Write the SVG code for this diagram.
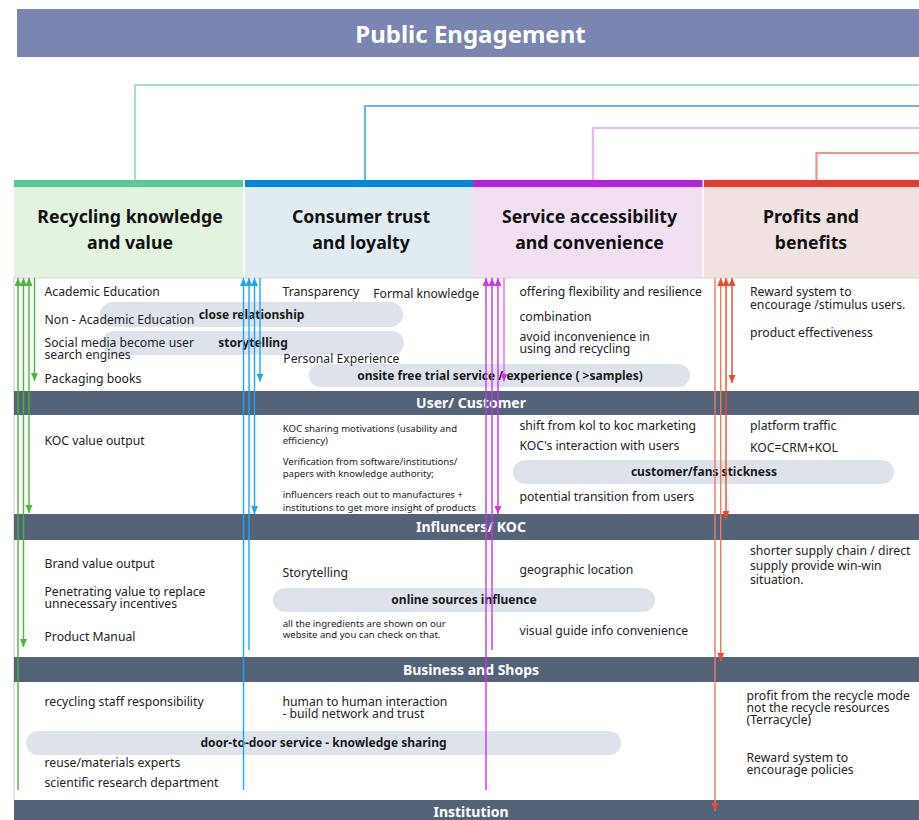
<svg xmlns="http://www.w3.org/2000/svg" width="919" height="820" viewBox="0 0 919 820">
  <style>
    .title { font-family: "Noto Sans", "Liberation Sans", sans-serif; font-size: 24px; font-weight: bold; fill: #ffffff; text-anchor: middle; }
    .head { font-family: "Noto Sans", "Liberation Sans", sans-serif; font-size: 17.7px; font-weight: bold; fill: #111111; text-anchor: middle; }
    .band { fill: #556379; }
    .bandtxt { font-family: "Noto Sans", "Liberation Sans", sans-serif; font-size: 14px; font-weight: bold; fill: #ffffff; text-anchor: middle; }
    .t { font-family: "Noto Sans", "Liberation Sans", sans-serif; font-size: 12.2px; fill: #222222; }
    .s { font-family: "Noto Sans", "Liberation Sans", sans-serif; font-size: 9.6px; fill: #222222; }
    .pill { fill: #dee3eb; }
    .pt { font-family: "Noto Sans", "Liberation Sans", sans-serif; font-size: 12px; font-weight: bold; fill: #1a1a1a; text-anchor: middle; }
    .link { fill: none; stroke-width: 2.2; }
    .v { fill: none; stroke-width: 1.4; }
  </style>
  <defs>
    <marker id="ag" viewBox="0 0 8 7" refX="8" refY="3.5" markerWidth="8" markerHeight="7" markerUnits="userSpaceOnUse" orient="auto-start-reverse"><path d="M0,0 L8,3.5 L0,7 z" fill="#4db33d"/></marker>
    <marker id="ab" viewBox="0 0 8 7" refX="8" refY="3.5" markerWidth="8" markerHeight="7" markerUnits="userSpaceOnUse" orient="auto-start-reverse"><path d="M0,0 L8,3.5 L0,7 z" fill="#1ca5f2"/></marker>
    <marker id="ap" viewBox="0 0 8 7" refX="8" refY="3.5" markerWidth="8" markerHeight="7" markerUnits="userSpaceOnUse" orient="auto-start-reverse"><path d="M0,0 L8,3.5 L0,7 z" fill="#cc33ee"/></marker>
    <marker id="ar" viewBox="0 0 8 7" refX="8" refY="3.5" markerWidth="8" markerHeight="7" markerUnits="userSpaceOnUse" orient="auto-start-reverse"><path d="M0,0 L8,3.5 L0,7 z" fill="#f04a28"/></marker>
  </defs>

  <rect x="0" y="0" width="919" height="820" fill="#ffffff"/>

  <!-- title -->
  <g id="title">
    <rect x="17" y="9" width="902" height="48" fill="#7b85b1"/>
    <text class="title" x="470.5" y="42.5">Public Engagement</text>
  </g>

  <!-- column headers -->
  <g id="col-knowledge">
    <rect x="14" y="187" width="229" height="91" fill="#e4f2e0"/>
    <rect x="14" y="180" width="229" height="7" fill="#58c89a"/>
    <text class="head" x="130" y="223">Recycling knowledge</text>
    <text class="head" x="130" y="249">and value</text>
  </g>
  <g id="col-trust">
    <rect x="245" y="187" width="228" height="91" fill="#e0ecf2"/>
    <rect x="245" y="180" width="228" height="7" fill="#0088e0"/>
    <text class="head" x="361" y="223">Consumer trust</text>
    <text class="head" x="361" y="249">and loyalty</text>
  </g>
  <g id="col-service">
    <rect x="473" y="187" width="229.5" height="91" fill="#f0e0f2"/>
    <rect x="473" y="180" width="229.5" height="7" fill="#b620e0"/>
    <text class="head" x="589.5" y="223">Service accessibility</text>
    <text class="head" x="589.5" y="249">and convenience</text>
  </g>
  <g id="col-profit">
    <rect x="704" y="187" width="215" height="91" fill="#f0e2e0"/>
    <rect x="704" y="180" width="215" height="7" fill="#e53a30"/>
    <text class="head" x="811" y="223">Profits and</text>
    <text class="head" x="811" y="249">benefits</text>
  </g>
  <line x1="14" y1="278" x2="919" y2="278" stroke="#d6d6d6" stroke-width="1"/>
  <line x1="14" y1="278" x2="14" y2="800" stroke="#c8c8c8" stroke-width="1"/>

  <!-- stakeholder bands -->
  <g id="band-user">
    <rect class="band" x="14" y="391" width="905" height="24"/>
    <text class="bandtxt" x="471" y="408">User/ Customer</text>
  </g>
  <g id="band-koc">
    <rect class="band" x="14" y="514" width="905" height="26"/>
    <text class="bandtxt" x="471" y="532">Influncers/ KOC</text>
  </g>
  <g id="band-business">
    <rect class="band" x="14" y="657" width="905" height="25"/>
    <text class="bandtxt" x="471" y="674.5">Business and Shops</text>
  </g>
  <g id="band-institution">
    <rect class="band" x="14" y="800" width="905" height="20"/>
    <text class="bandtxt" x="471" y="817">Institution</text>
  </g>

  <!-- shared themes spanning columns -->
  <g id="pill-close">
    <rect class="pill" x="100" y="302" width="303" height="25" rx="12.5"/>
    <text class="pt" x="251.5" y="318.7">close relationship</text>
  </g>
  <g id="pill-story">
    <rect class="pill" x="102" y="331" width="302" height="24" rx="12"/>
    <text class="pt" x="253" y="347">storytelling</text>
  </g>
  <g id="pill-trial">
    <rect class="pill" x="309" y="364" width="381" height="23" rx="11.5"/>
    <text class="pt" x="500" y="379.7">onsite free trial service / experience ( &gt;samples)</text>
  </g>
  <g id="pill-sticky">
    <rect class="pill" x="513" y="460" width="381" height="24" rx="12"/>
    <text class="pt" x="704" y="476">customer/fans stickness</text>
  </g>
  <g id="pill-online">
    <rect class="pill" x="273" y="588" width="382" height="24" rx="12"/>
    <text class="pt" x="464" y="604">online sources influence</text>
  </g>
  <g id="pill-door">
    <rect class="pill" x="26" y="731" width="595" height="24" rx="12"/>
    <text class="pt" x="323.5" y="747">door-to-door service - knowledge sharing</text>
  </g>

  <!-- User / Customer row -->
  <g id="user-items">
    <text class="t" x="44.5" y="296">Academic Education</text>
    <text class="t" x="44.5" y="323.5">Non - Academic Education</text>
    <text class="t" x="44.5" y="347">Social media become user</text>
    <text class="t" x="44.5" y="358.5">search engines</text>
    <text class="t" x="44.5" y="382.5">Packaging books</text>
    <text class="t" x="282.5" y="296">Transparency</text>
    <text class="t" x="373.3" y="298">Formal knowledge</text>
    <text class="t" x="283.3" y="363">Personal Experience</text>
    <text class="t" x="519.5" y="296">offering flexibility and resilience</text>
    <text class="t" x="519.5" y="321">combination</text>
    <text class="t" x="519.5" y="341">avoid inconvenience in</text>
    <text class="t" x="519.5" y="353">using and recycling</text>
    <text class="t" x="750" y="296">Reward system to</text>
    <text class="t" x="750" y="309">encourage /stimulus users.</text>
    <text class="t" x="750" y="337">product effectiveness</text>
  </g>

  <!-- Influencers / KOC row -->
  <g id="koc-items">
    <text class="t" x="44.5" y="445">KOC value output</text>
    <text class="s" x="282.7" y="431.7">KOC sharing motivations (usability and</text>
    <text class="s" x="282.7" y="444">efficiency)</text>
    <text class="s" x="282.7" y="465">Verification from software/institutions/</text>
    <text class="s" x="282.7" y="477.4">papers with knowledge authority;</text>
    <text class="s" x="282.7" y="498.4">influencers reach out to manufactures +</text>
    <text class="s" x="282.7" y="510.7">institutions to get more insight of products</text>
    <text class="t" x="519.5" y="430">shift from kol to koc marketing</text>
    <text class="t" x="519.5" y="450">KOC's interaction with users</text>
    <text class="t" x="519.5" y="501">potential transition from users</text>
    <text class="t" x="750" y="430">platform traffic</text>
    <text class="t" x="750" y="452">KOC=CRM+KOL</text>
  </g>

  <!-- Business and Shops row -->
  <g id="business-items">
    <text class="t" x="44.5" y="568">Brand value output</text>
    <text class="t" x="44.5" y="596">Penetrating value to replace</text>
    <text class="t" x="44.5" y="607.5">unnecessary incentives</text>
    <text class="t" x="44.5" y="641">Product Manual</text>
    <text class="t" x="282.5" y="577">Storytelling</text>
    <text class="s" x="282.7" y="626.7">all the ingredients are shown on our</text>
    <text class="s" x="282.7" y="638.4">website and you can check on that.</text>
    <text class="t" x="519.5" y="573.5">geographic location</text>
    <text class="t" x="519.5" y="635">visual guide info convenience</text>
    <text class="t" x="750" y="555">shorter supply chain / direct</text>
    <text class="t" x="750" y="569.5">supply provide win-win</text>
    <text class="t" x="750" y="583.5">situation.</text>
  </g>

  <!-- Institution row -->
  <g id="institution-items">
    <text class="t" x="44.5" y="706">recycling staff responsibility</text>
    <text class="t" x="44.5" y="767">reuse/materials experts</text>
    <text class="t" x="44.5" y="786.5">scientific research department</text>
    <text class="t" x="282.5" y="706">human to human interaction</text>
    <text class="t" x="282.5" y="718">- build network and trust</text>
    <text class="t" x="746.5" y="700">profit from the recycle mode</text>
    <text class="t" x="746.5" y="712">not the recycle resources</text>
    <text class="t" x="746.5" y="724">(Terracycle)</text>
    <text class="t" x="746.5" y="761.5">Reward system to</text>
    <text class="t" x="746.5" y="774">encourage policies</text>
  </g>

  <!-- connectors -->
  <g id="connectors">
    <path class="link" d="M135,180 V85 H919" stroke="#a8dec8"/>
    <path class="link" d="M365,180 V106 H919" stroke="#6db3e8"/>
    <path class="link" d="M593,180 V128 H919" stroke="#ebb8f6"/>
    <path class="link" d="M816.5,180 V153 H919" stroke="#f4908a"/>

    <path class="v" d="M18,278 V790" stroke="#4db33d" marker-start="url(#ag)"/>
    <path class="v" d="M23.5,278 V647" stroke="#4db33d" marker-start="url(#ag)" marker-end="url(#ag)"/>
    <path class="v" d="M29,278 V513" stroke="#4db33d" marker-start="url(#ag)" marker-end="url(#ag)"/>
    <path class="v" d="M34.5,278 V381" stroke="#4db33d" marker-end="url(#ag)"/>

    <path class="v" d="M243.5,278 V790" stroke="#1ca5f2" marker-start="url(#ab)"/>
    <path class="v" d="M249,278 V650" stroke="#1ca5f2" marker-start="url(#ab)"/>
    <path class="v" d="M254.5,278 V514" stroke="#1ca5f2" marker-start="url(#ab)" marker-end="url(#ab)"/>
    <path class="v" d="M260,278 V381.5" stroke="#1ca5f2" marker-end="url(#ab)"/>

    <path class="v" d="M486,278 V790" stroke="#cc33ee" marker-start="url(#ap)"/>
    <path class="v" d="M492,278 V650" stroke="#cc33ee" marker-start="url(#ap)"/>
    <path class="v" d="M498,278 V514" stroke="#cc33ee" marker-start="url(#ap)" marker-end="url(#ap)"/>
    <path class="v" d="M504,278 V381.5" stroke="#dd66f2" marker-end="url(#ap)"/>

    <path class="v" d="M715,278 V811" stroke="#f07860" marker-end="url(#ar)"/>
    <path class="v" d="M720.7,278 V661" stroke="#f07860" marker-start="url(#ar)" marker-end="url(#ar)"/>
    <path class="v" d="M726,278 V519" stroke="#f04a28" marker-start="url(#ar)" marker-end="url(#ar)"/>
    <path class="v" d="M732,278 V383" stroke="#f04a28" marker-start="url(#ar)" marker-end="url(#ar)"/>
  </g>
</svg>
